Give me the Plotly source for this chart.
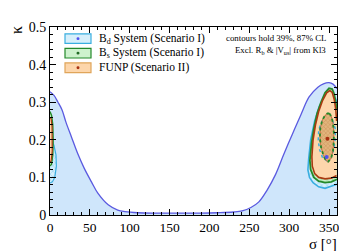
import plotly.graph_objects as go

# ---------------- data ----------------
# Outer envelope (large light-blue region)
env_sigma = [0, 5, 10, 15, 20, 27, 35, 43, 52, 60, 73, 85, 94, 110, 130, 150, 170, 190,
             210, 230, 241, 252, 262, 272, 283, 293, 304, 315, 325, 336, 343, 350, 355, 360]
env_kappa = [0.328, 0.318, 0.300, 0.280, 0.247, 0.207, 0.162, 0.124, 0.088, 0.058, 0.027,
             0.013, 0.009, 0.006, 0.005, 0.005, 0.005, 0.005, 0.006, 0.008, 0.011, 0.020,
             0.035, 0.065, 0.108, 0.160, 0.215, 0.268, 0.314, 0.340, 0.349, 0.352, 0.348, 0.336]

# Bd system, 87% CL (right part and wrapped left part)
bd87_sigma = [360, 352, 345, 337, 330, 325.5, 323.5, 324.5, 327, 332, 338, 345, 352, 358, 360]
bd87_kappa = [0.082, 0.075, 0.071, 0.075, 0.086, 0.100, 0.120, 0.150, 0.200, 0.250, 0.290,
              0.315, 0.320, 0.310, 0.300]
bd87L_sigma = [0, 3, 6, 8, 7.5, 5, 2, 0]
bd87L_kappa = [0.085, 0.088, 0.100, 0.130, 0.160, 0.185, 0.200, 0.205]

# Bs system, 87% CL
bs87_sigma = [360, 353, 345, 337, 331, 327, 326, 328, 331, 335, 340, 345, 350, 354, 356.5, 358.5, 360]
bs87_kappa = [0.095, 0.088, 0.086, 0.090, 0.100, 0.120, 0.145, 0.190, 0.230, 0.270, 0.300,
              0.325, 0.337, 0.335, 0.322, 0.300, 0.280]
bs87L_sigma = [0, 2, 3.5, 4, 3.5, 2, 0]
bs87L_kappa = [0.130, 0.135, 0.160, 0.200, 0.240, 0.265, 0.275]

# FUNP, 87% CL
fu87_sigma = [359.5, 353, 345, 337, 332, 329, 328.5, 330, 333, 337, 342, 347, 351, 354, 356.5, 358.5, 359.5]
fu87_kappa = [0.105, 0.098, 0.096, 0.100, 0.110, 0.130, 0.155, 0.200, 0.240, 0.275, 0.305,
              0.325, 0.331, 0.326, 0.308, 0.280, 0.250]
fu87L_sigma = [0, 1.5, 2.8, 3, 2.6, 1.5, 0]
fu87L_kappa = [0.140, 0.145, 0.170, 0.200, 0.235, 0.255, 0.260]

# 39% CL contours
fu39_sigma = [350.5, 353, 355, 356, 356, 355, 352.5, 349, 346, 343, 340, 338.5, 339, 341.5, 345, 348, 350.5]
fu39_kappa = [0.270, 0.262, 0.245, 0.220, 0.195, 0.170, 0.150, 0.142, 0.145, 0.158, 0.180,
              0.205, 0.230, 0.252, 0.265, 0.270, 0.270]
bd39_sigma = [349, 354, 357.5, 358, 356, 352, 347, 342, 338, 336.5, 337, 340, 344, 349]
bd39_kappa = [0.262, 0.252, 0.232, 0.205, 0.175, 0.152, 0.145, 0.152, 0.175, 0.200, 0.225,
              0.245, 0.258, 0.262]

# best-fit points
best_sigma = [347, 348]
best_kappa = [0.154, 0.203]

legend_labels = ["B<sub>d</sub> System (Scenario I)",
                 "B<sub>s</sub> System (Scenario I)",
                 "FUNP (Scenario II)"]
note_lines = ["contours hold 39%, 87% CL",
              "Excl. R<sub>b</sub> &amp; |V<sub>us</sub>| from Kl3"]

# ---------------- styles ----------------
ENV_FILL = "#cfe6fb"
ENV_LINE = "#5a5ae0"
BD_LINE = "#3aaee0"
BD_FILL = "#d6effb"
BD_HATCH = "#6cc6ef"
BS_LINE = "#23892a"
BS_FILL = "#cdf2cd"
BS_HATCH = "#6fd06f"
FU_LINE = "#a83a10"
FU_FILL = "#fdd6ab"
FU_IN = "#e2b47c"
FU_HATCH = "#b07030"
SERIF = "Liberation Serif, Times New Roman, serif"

fig = go.Figure()

def poly(xs, ys, line, fill, width=1.6, dash="solid", pattern=None):
    kw = {}
    if pattern is not None:
        kw["fillpattern"] = pattern
    fig.add_trace(go.Scatter(x=xs, y=ys, mode="lines", fill="toself" if fill else None,
                             fillcolor=fill, line=dict(color=line, width=width, dash=dash),
                             hoverinfo="skip", showlegend=False, **kw))

# envelope
fig.add_trace(go.Scatter(x=env_sigma, y=env_kappa, mode="lines", fill="tozeroy",
                         fillcolor=ENV_FILL, line=dict(color=ENV_LINE, width=1.3, shape="spline"),
                         hoverinfo="skip", showlegend=False))

bd_pat = dict(shape="x", fgcolor=BD_HATCH, bgcolor=BD_FILL, size=4, solidity=0.35)
bs_pat = dict(shape="x", fgcolor=BS_HATCH, bgcolor=BS_FILL, size=4, solidity=0.35)
fu_pat = dict(shape="x", fgcolor=FU_HATCH, bgcolor=FU_IN, size=3, solidity=0.3)

poly(bd87_sigma, bd87_kappa, BD_LINE, BD_FILL, 1.6, pattern=bd_pat)
poly(bd87L_sigma, bd87L_kappa, BD_LINE, BD_FILL, 1.2, pattern=bd_pat)
poly(bs87_sigma, bs87_kappa, BS_LINE, BS_FILL, 1.8, pattern=bs_pat)
poly(bs87L_sigma, bs87L_kappa, BS_LINE, BS_FILL, 1.4, pattern=bs_pat)
poly(fu87_sigma, fu87_kappa, FU_LINE, FU_FILL, 1.6)
poly(fu87L_sigma, fu87L_kappa, FU_LINE, FU_FILL, 1.2)
poly(bd39_sigma, bd39_kappa, BD_LINE, None, 1.5, dash="dot")
poly(fu39_sigma, fu39_kappa, FU_LINE, FU_IN, 0.6, pattern=fu_pat)
poly(fu39_sigma, fu39_kappa, BS_LINE, None, 1.8, dash="dot")

fig.add_trace(go.Scatter(x=best_sigma, y=best_kappa, mode="markers",
                         marker=dict(color=["#5050ee", "#a83010"], size=4),
                         hoverinfo="skip", showlegend=False))

# ---------------- layout ----------------
W, H = 347, 251
L, R, T, B = 42, 18, 13, 44
pw, ph = W - L - R, H - T - B

def px(x):
    return (x - L) / pw

def py(y):
    return (H - B - y) / ph

# manual legend
leg_fill = [BD_FILL, BS_FILL, FU_FILL]
leg_line = [BD_LINE, BS_LINE, "#e0a55a"]
leg_dot = ["#5050ee", "#226a26", "#a83010"]
for i, lab in enumerate(legend_labels):
    yc = 25 + 15 * i
    fig.add_shape(type="rect", xref="paper", yref="paper",
                  x0=px(57), x1=px(83), y0=py(yc + 5), y1=py(yc - 5),
                  fillcolor=leg_fill[i], line=dict(color=leg_line[i], width=1.2))
    fig.add_shape(type="circle", xref="paper", yref="paper",
                  x0=px(68.5), x1=px(71.5), y0=py(yc + 1.5), y1=py(yc - 1.5),
                  fillcolor=leg_dot[i], line=dict(width=0))
    fig.add_annotation(xref="paper", yref="paper", x=px(89), y=py(yc), text=lab,
                       showarrow=False, xanchor="left", yanchor="middle",
                       font=dict(family=SERIF, size=11.5, color="black"))

for i, t in enumerate(note_lines):
    fig.add_annotation(xref="paper", yref="paper", x=px(320), y=py(24 + 13 * i), text=t,
                       showarrow=False, xanchor="right", yanchor="middle",
                       font=dict(family=SERIF, size=8.8, color="black"))

fig.add_annotation(xref="paper", yref="paper", x=px(9), y=py(16), text="κ",
                   showarrow=False, textangle=-90, xanchor="center", yanchor="middle",
                   font=dict(family=SERIF, size=16, color="black"))
fig.add_annotation(xref="paper", yref="paper", x=px(331), y=py(237), text="σ [°]",
                   showarrow=False, xanchor="right", yanchor="middle",
                   font=dict(family=SERIF, size=15, color="black"))

axis_common = dict(showgrid=False, zeroline=False, ticks="inside", mirror="allticks",
                   showline=True, linecolor="black", linewidth=1, tickcolor="black",
                   ticklen=6, tickwidth=1)

fig.update_layout(
    width=W, height=H, margin=dict(l=L, r=R, t=T, b=B),
    font=dict(family=SERIF, color="black"),
    plot_bgcolor="white", paper_bgcolor="white", showlegend=False,
    xaxis=dict(range=[0, 360], dtick=50, tick0=0,
               tickfont=dict(family=SERIF, size=13.5, color="black"),
               minor=dict(dtick=10, ticklen=3, ticks="inside", tickcolor="black"),
               **axis_common),
    yaxis=dict(range=[0, 0.5], dtick=0.1, tick0=0, tickformat="~g",
               tickfont=dict(family=SERIF, size=14, color="black"),
               minor=dict(dtick=0.02, ticklen=3, ticks="inside", tickcolor="black"),
               **axis_common),
)

fig.write_html("out.html")
